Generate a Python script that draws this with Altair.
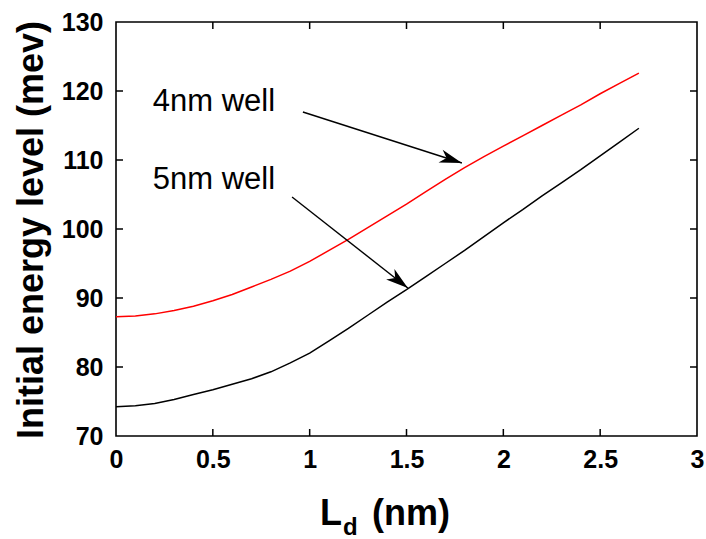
import math
import altair as alt
import pandas as pd

# ---- data ----
ld_nm = [0.0, 0.1, 0.2, 0.3, 0.4, 0.5, 0.6, 0.7, 0.8, 0.9, 1.0, 1.1, 1.2, 1.3,
         1.4, 1.5, 1.6, 1.7, 1.8, 1.9, 2.0, 2.1, 2.2, 2.3, 2.4, 2.5, 2.6, 2.7]
well_4nm = [87.3, 87.4, 87.7, 88.2, 88.8, 89.6, 90.5, 91.6, 92.7, 93.9, 95.3, 96.9,
            98.5, 100.2, 101.9, 103.6, 105.4, 107.2, 108.9, 110.5, 112.0, 113.5,
            115.0, 116.5, 118.0, 119.6, 121.1, 122.6]
well_5nm = [74.25, 74.4, 74.7, 75.3, 76.0, 76.7, 77.5, 78.3, 79.3, 80.6, 82.0, 83.8,
            85.6, 87.5, 89.4, 91.2, 93.1, 95.0, 96.9, 98.9, 100.9, 102.8, 104.8,
            106.7, 108.6, 110.6, 112.6, 114.6]

x_ticks = [0, 0.5, 1, 1.5, 2, 2.5, 3]
y_ticks = [70, 80, 90, 100, 110, 120, 130]

labels = ["4nm well", "5nm well"]
label_x = [0.19, 0.19]
label_y = [118.4, 107.1]
arrow_x1 = [0.965, 0.909]
arrow_y1 = [116.96, 104.64]
arrow_x2 = [1.786, 1.507]
arrow_y2 = [109.57, 91.45]

W, H = 581, 414
XMAX, YMIN, YMAX = 3, 70, 130
FONT = "Liberation Sans"

rows = []
for x, a, b in zip(ld_nm, well_4nm, well_5nm):
    rows.append({"x": x, "y": a, "s": "4nm"})
    rows.append({"x": x, "y": b, "s": "5nm"})
df = pd.DataFrame(rows)

xs = alt.Scale(domain=[0, XMAX], nice=False, zero=False)
ys = alt.Scale(domain=[YMIN, YMAX], nice=False, zero=False)

lines = alt.Chart(df).mark_line(strokeWidth=1.5, clip=True).encode(
    x=alt.X("x:Q", scale=xs,
            axis=alt.Axis(values=x_ticks, format="~g", title=None, domain=False,
                          ticks=False, tickSize=0, grid=False, labelFont=FONT,
                          labelFontSize=25, labelFontWeight="bold", labelColor="black",
                          labelPadding=11, labelFlush=False)),
    y=alt.Y("y:Q", scale=ys,
            axis=alt.Axis(values=y_ticks, title=None, domain=False, ticks=False,
                          tickSize=0, grid=False, labelFont=FONT, labelFontSize=25,
                          labelFontWeight="bold", labelColor="black", labelPadding=13,
                          labelFlush=False)),
    color=alt.Color("s:N", scale=alt.Scale(domain=["4nm", "5nm"], range=["#ff0000", "#000000"]),
                    legend=None),
    detail="s:N",
)

# inward tick marks on all four sides
yt = pd.DataFrame({"v": y_ticks[1:-1]})
xt = pd.DataFrame({"v": x_ticks[1:-1]})
TL = 7
ytick_l = alt.Chart(yt).mark_rule(color="black", strokeWidth=1.5).encode(
    y=alt.Y("v:Q", scale=ys), x=alt.value(0), x2=alt.value(TL))
ytick_r = alt.Chart(yt).mark_rule(color="black", strokeWidth=1.5).encode(
    y=alt.Y("v:Q", scale=ys), x=alt.value(W - TL), x2=alt.value(W))
xtick_b = alt.Chart(xt).mark_rule(color="black", strokeWidth=1.5).encode(
    x=alt.X("v:Q", scale=xs), y=alt.value(H), y2=alt.value(H - TL))
xtick_t = alt.Chart(xt).mark_rule(color="black", strokeWidth=1.5).encode(
    x=alt.X("v:Q", scale=xs), y=alt.value(0), y2=alt.value(TL))

# annotations
ann = pd.DataFrame({"t": labels, "x": label_x, "y": label_y})
ann_text = alt.Chart(ann).mark_text(align="left", baseline="middle", font=FONT,
                                    fontSize=31, color="black").encode(
    x=alt.X("x:Q", scale=xs), y=alt.Y("y:Q", scale=ys), text="t:N")

px_x = W / XMAX
px_y = H / (YMAX - YMIN)
angles = []
for x1, y1, x2, y2 in zip(arrow_x1, arrow_y1, arrow_x2, arrow_y2):
    dx = (x2 - x1) * px_x
    dy = -(y2 - y1) * px_y
    angles.append(math.degrees(math.atan2(dx, -dy)) % 360)
arr = pd.DataFrame({"x1": arrow_x1, "y1": arrow_y1, "x2": arrow_x2, "y2": arrow_y2,
                    "a": angles})
arrow_lines = alt.Chart(arr).mark_rule(color="black", strokeWidth=1.4).encode(
    x=alt.X("x1:Q", scale=xs), y=alt.Y("y1:Q", scale=ys), x2="x2:Q", y2="y2:Q")
arrow_heads = alt.Chart(arr).mark_point(
    shape="M0,0L-0.3,1L0,0.72L0.3,1Z", filled=True, color="black", opacity=1,
    size=2000, strokeWidth=0).encode(
    x=alt.X("x2:Q", scale=xs), y=alt.Y("y2:Q", scale=ys), angle=alt.Angle("a:Q", scale=None))

one = alt.Data(values=[{"k": 1}])
ytitle = alt.Chart(one).mark_text(text="Initial energy level (mev)", angle=270, font=FONT,
                                  fontSize=36, fontWeight="bold", align="center",
                                  baseline="alphabetic", color="black").encode(
    x=alt.value(-73), y=alt.value(208))
xt_L = alt.Chart(one).mark_text(text="L", font=FONT, fontSize=36, fontWeight="bold",
                                align="left", baseline="alphabetic", color="black").encode(
    x=alt.value(204), y=alt.value(503))
xt_d = alt.Chart(one).mark_text(text="d", font=FONT, fontSize=24, fontWeight="bold",
                                align="left", baseline="alphabetic", color="black").encode(
    x=alt.value(227), y=alt.value(513))
xt_nm = alt.Chart(one).mark_text(text="(nm)", font=FONT, fontSize=36, fontWeight="bold",
                                 align="left", baseline="alphabetic", color="black").encode(
    x=alt.value(256), y=alt.value(503))

chart = alt.layer(
    lines, ytick_l, ytick_r, xtick_b, xtick_t, ann_text, arrow_lines, arrow_heads,
    ytitle, xt_L, xt_d, xt_nm
).properties(
    width=W, height=H,
    autosize=alt.AutoSizeParams(type="none"),
    padding={"left": 116, "top": 22, "right": 9, "bottom": 103},
    background="white",
).configure_view(stroke="black", strokeWidth=1.6)

chart.save("out.html", embed_options={"renderer": "svg", "actions": False})
